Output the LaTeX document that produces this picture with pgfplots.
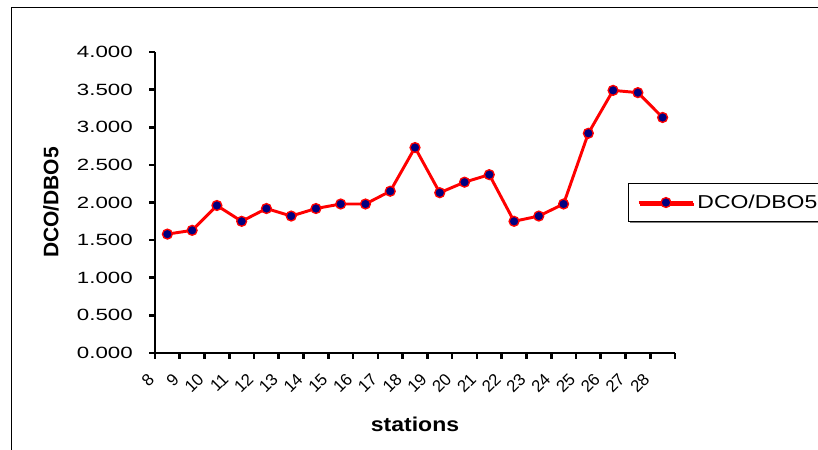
\documentclass[border=0pt]{standalone}
\usepackage{fontspec}
\setmainfont{Liberation Sans}
\newfontfamily\ytickfont{Liberation Sans}[FakeStretch=1.37]
\newfontfamily\legfont{Liberation Sans}[FakeStretch=1.23]
\newfontfamily\statfont{Liberation Sans}[FakeStretch=1.15]
\usepackage{pgfplots}
\pgfplotsset{compat=1.18}
\usetikzlibrary{shadows}
\definecolor{navy}{RGB}{0,0,128}
\pgfplotstableread{
idx val
0 1.58
1 1.63
2 1.96
3 1.75
4 1.92
5 1.82
6 1.92
7 1.98
8 1.98
9 2.15
10 2.73
11 2.13
12 2.27
13 2.37
14 1.75
15 1.82
16 1.98
17 2.92
18 3.49
19 3.46
20 3.13
}\datatable
\begin{document}
\begin{tikzpicture}
\draw[line width=0.75pt] (8.8pt,-5pt) -- (8.8pt,331.6pt) -- (630pt,331.6pt);
\begin{axis}[
  at={(116.25pt,72.75pt)}, anchor=south west,
  scale only axis, width=390pt, height=225.75pt,
  xmin=-0.5, xmax=20.5, ymin=0, ymax=4,
  axis x line*=bottom, axis y line*=left,
  axis line style={line width=2.2pt, black},
  tick align=outside,
  xtick={0,...,20},
  xticklabels={8,9,10,11,12,13,14,15,16,17,18,19,20,21,22,23,24,25,26,27,28},
  major x tick style={draw=none},
  minor xtick={-0.5,0.5,...,20.5},
  minor tick length=4.5pt,
  major tick length=4.5pt,
  minor x tick style={line width=2pt, black},
  major y tick style={line width=2pt, black},
  ytick={0,0.5,...,4},
  yticklabel style={font=\ytickfont\fontsize{12.2pt}{14pt}\selectfont, inner sep=0pt, anchor=east, xshift=-12pt},
  xticklabel style={font=\fontsize{12.6pt}{14pt}\selectfont, inner sep=0pt, xshift=-12pt, yshift=-13pt, rotate=45, anchor=east},
  /pgf/number format/.cd, fixed, fixed zerofill, precision=3, assume math mode=true, /pgfplots/.cd,
  ylabel={DCO/DBO5},
  ylabel style={font=\bfseries\fontsize{15.75pt}{18pt}\selectfont, at={(axis description cs:-0.2,0.5)}, anchor=center, rotate=0},
  xlabel={stations},
  xlabel style={font=\statfont\bfseries\fontsize{15pt}{18pt}\selectfont, at={(axis description cs:0.5,-0.236)}, anchor=center},
  legend style={at={(axis description cs:0.9096,0.565)}, anchor=north west, draw=black, line width=0.75pt, fill=white,
    font=\legfont\fontsize{14pt}{16pt}\selectfont, inner xsep=6.5pt, inner ysep=6.5pt,
    drop shadow={shadow xshift=0.8pt, shadow yshift=-1.2pt, fill=gray, opacity=1}},
  legend image code/.code={\draw[mark repeat=2,mark phase=2,#1] plot coordinates {(0pt,0pt) (20.5pt,0pt) (41pt,0pt)};},
  clip=false,
]
\addplot[red, line width=2.2pt, mark=*, mark size=3.7pt, mark options={fill=navy, draw=red, line width=1pt}] table[x=idx, y=val] {\datatable};
\addlegendentry{DCO/DBO5}
\end{axis}
\pgfresetboundingbox
\path[use as bounding box] (0,0) rectangle (613.5pt,337.5pt);
\end{tikzpicture}
\end{document}
